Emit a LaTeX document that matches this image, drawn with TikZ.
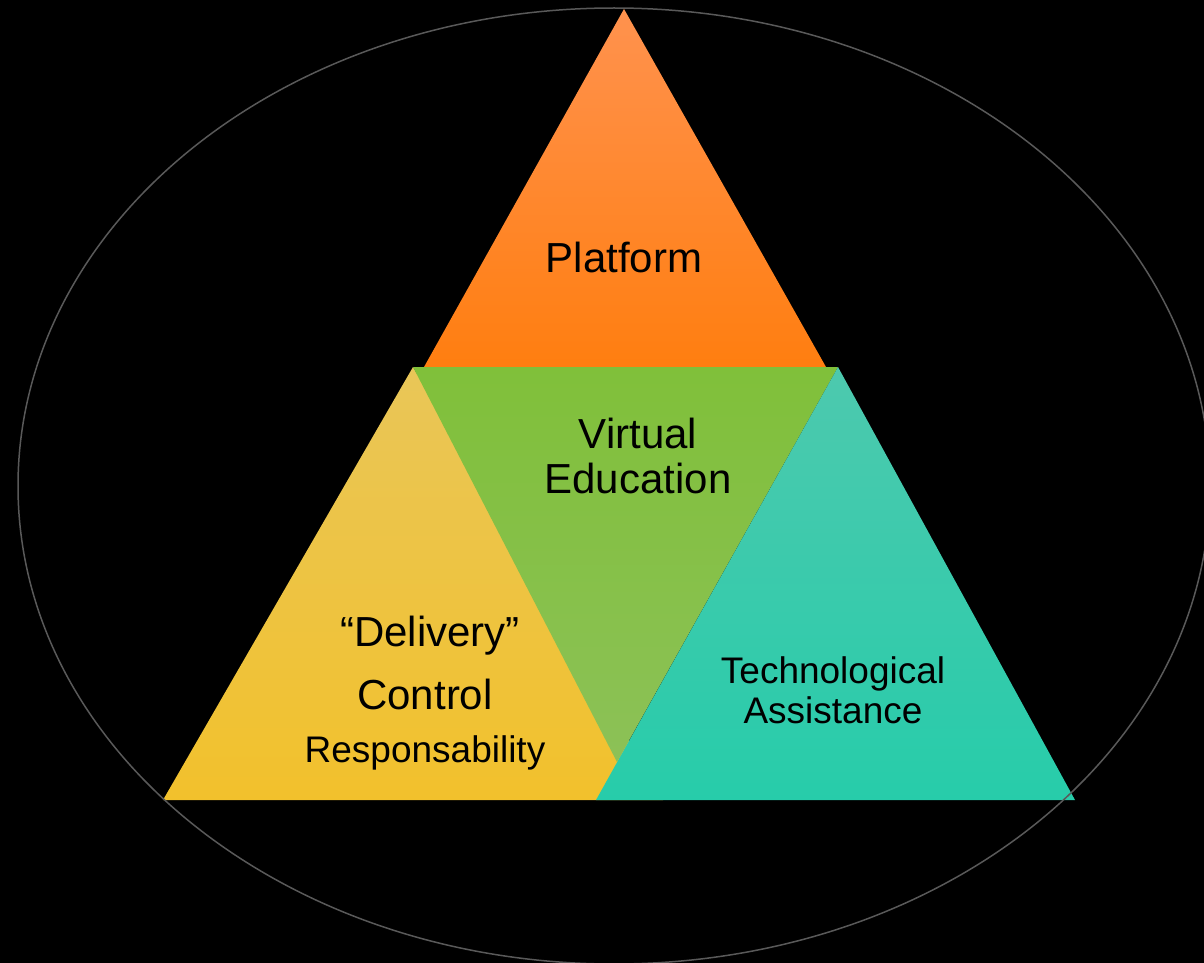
\documentclass[tikz,border=0pt]{standalone}
\usepackage{fontspec}
\setmainfont{Liberation Sans}
\definecolor{orangeTop}{HTML}{FF924E}
\definecolor{orangeBot}{HTML}{FF7E10}
\definecolor{yellowTop}{HTML}{E9C658}
\definecolor{yellowBot}{HTML}{F2C12C}
\definecolor{greenTop}{HTML}{80C03A}
\definecolor{greenBot}{HTML}{8CC157}
\definecolor{tealTop}{HTML}{4DC9AE}
\definecolor{tealBot}{HTML}{27CCAA}
\begin{document}
\begin{tikzpicture}[x=1pt,y=-1pt,
   big text/.style={text=black,align=center,font=\fontsize{42}{45}\selectfont},
   small text/.style={text=black,align=center,font=\fontsize{37}{40}\selectfont}]
\fill[black] (0,0) rectangle (1204,963);
\useasboundingbox (0,0) rectangle (1204,963);
% corners
\coordinate (P) at (624,9);
\coordinate (PL) at (424,367);
\coordinate (PR) at (826,367);
\coordinate (VL) at (413,367);
\coordinate (VR) at (838,367);
\coordinate (V) at (617,762);
\coordinate (DL) at (163,800);
\coordinate (DR) at (663,800);
\coordinate (TL) at (596,800);
\coordinate (TR) at (1075,800);
% triangles
\shade[top color=orangeTop,bottom color=orangeBot] (P) -- (PR) -- (PL) -- cycle;
\shade[top color=yellowTop,bottom color=yellowBot] (VL) -- (DR) -- (DL) -- cycle;
\shade[top color=greenTop,bottom color=greenBot] (VL) -- (VR) -- (V) -- cycle;
\shade[top color=tealTop,bottom color=tealBot] (VR) -- (TR) -- (TL) -- cycle;
% outline
\draw[color=black!65!white,line width=1.5pt] (614,486) ellipse (596 and 478);
% labels
\node[big text] (platform) at (624,257) {Platform};
\node[big text] (virtual) at (638,456) {Virtual\\Education};
\node[big text] (delivery) at (430,636) {``Delivery''};
\node[big text] (control) at (425,694) {Control};
\node[small text] (resp) at (425,753) {Responsability};
\node[small text] (tech) at (833,690) {Technological\\Assistance};
\end{tikzpicture}
\end{document}
